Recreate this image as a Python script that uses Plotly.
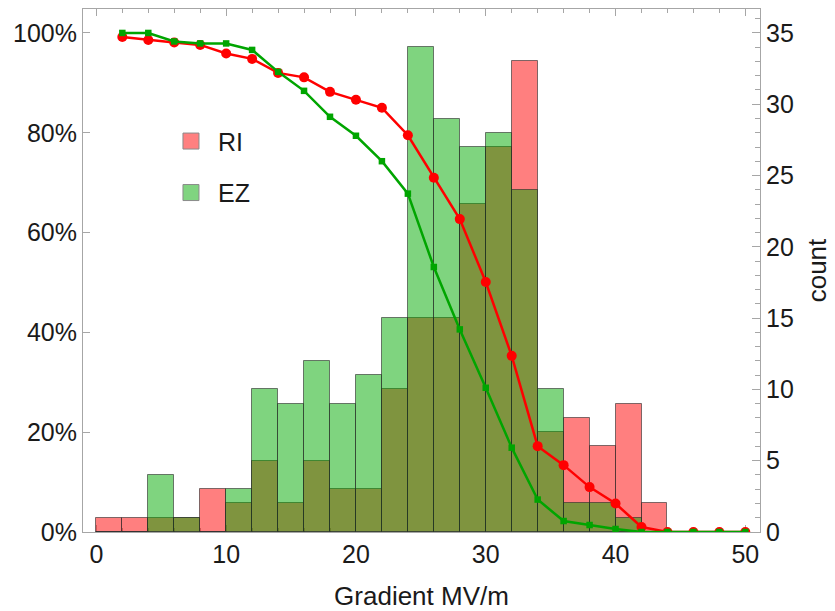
import plotly.graph_objects as go

# ---- data ----
bin_centers = [1, 3, 5, 7, 9, 11, 13, 15, 17, 19, 21, 23, 25, 27, 29, 31, 33, 35, 37, 39, 41, 43]
ri_counts = [1, 1, 1, 1, 3, 2, 5, 2, 5, 3, 3, 10, 15, 15, 23, 27, 33, 7, 8, 6, 9, 2]
ez_counts = [0, 0, 4, 1, 0, 3, 10, 9, 12, 9, 11, 15, 34, 29, 27, 28, 24, 10, 2, 2, 1, 0]

gradient_pts = [2, 4, 6, 8, 10, 12, 14, 16, 18, 20, 22, 24, 26, 28, 30, 32, 34, 36, 38, 40, 42, 44, 46, 48, 50]
ri_pct = [99.2, 98.6, 98.1, 97.6, 95.9, 94.8, 92.0, 91.1, 88.2, 86.6, 85.0, 79.5,
          71.0, 62.7, 50.1, 35.3, 17.2, 13.4, 9.0, 5.7, 1.0, 0, 0, 0, 0]
ez_pct = [100, 100, 98.3, 97.9, 97.9, 96.6, 92.2, 88.4, 83.2, 79.4, 74.3, 67.8,
          53.1, 40.6, 28.9, 16.9, 6.5, 2.2, 1.4, 0.6, 0, 0, 0, 0, 0]

x_ticks = [0, 10, 20, 30, 40, 50]
pct_ticks = [0, 20, 40, 60, 80, 100]
pct_labels = ["0%", "20%", "40%", "60%", "80%", "100%"]
count_ticks = [0, 5, 10, 15, 20, 25, 30, 35]
series_names = ["RI", "EZ"]

FONT = "Liberation Sans, Arial, sans-serif"
FRAME = "#a6a6a6"
EDGE = "rgba(40,40,40,0.6)"
FS = 25
TS = 26

fig = go.Figure()

fig.add_trace(go.Bar(x=bin_centers, y=ri_counts, width=2, yaxis="y",
                     marker=dict(color="rgba(255,0,0,0.5)", line=dict(color=EDGE, width=1)),
                     showlegend=False, hoverinfo="skip"))
fig.add_trace(go.Bar(x=bin_centers, y=ez_counts, width=2, yaxis="y",
                     marker=dict(color="rgba(0,170,0,0.5)", line=dict(color=EDGE, width=1)),
                     showlegend=False, hoverinfo="skip"))

fig.add_trace(go.Scatter(x=gradient_pts, y=ri_pct, yaxis="y2", mode="lines+markers",
                         line=dict(color="#ff0000", width=2.5),
                         marker=dict(symbol="circle", size=10, color="#ff0000"),
                         showlegend=False))
fig.add_trace(go.Scatter(x=gradient_pts, y=ez_pct, yaxis="y2", mode="lines+markers",
                         line=dict(color="#00a500", width=2.5),
                         marker=dict(symbol="square", size=6.5, color="#00a500"),
                         showlegend=False))

# legend entries
fig.add_trace(go.Scatter(x=[None], y=[None], yaxis="y2", mode="markers", name=series_names[0],
                         legendgroup="a",
                         marker=dict(symbol="square", size=16, color="#ff8080",
                                     line=dict(color="#8a8a8a", width=1))))
fig.add_trace(go.Scatter(x=[None], y=[None], yaxis="y2", mode="markers", name=series_names[1],
                         legendgroup="b",
                         marker=dict(symbol="square", size=16, color="#80d480",
                                     line=dict(color="#8a8a8a", width=1))))

# page body has an 8px margin, so the figure is slightly smaller than the window
fig.update_layout(
    width=827, height=603,
    margin=dict(l=75, r=75, t=1, b=79),
    paper_bgcolor="white", plot_bgcolor="white",
    barmode="overlay", bargap=0,
    font=dict(family=FONT, size=FS, color="#1a1a1a"),
    xaxis=dict(range=[-1.03, 51.13], tickvals=x_ticks, ticks="inside", ticklen=7,
               tickcolor=FRAME, showline=True, linecolor=FRAME, linewidth=1,
               mirror="ticks", showgrid=False, zeroline=False, automargin=False,
               minor=dict(dtick=2, ticks="inside", ticklen=4, tickcolor=FRAME),
               title=dict(text="Gradient MV/m", font=dict(size=TS), standoff=20),
               tickfont=dict(size=FS), layer="below traces"),
    yaxis=dict(side="right", range=[0, 36.68], tickvals=count_ticks, ticks="inside",
               ticklen=8, tickcolor=FRAME, showline=True, linecolor=FRAME, linewidth=1,
               showgrid=False, zeroline=False, automargin=False,
               minor=dict(dtick=1, ticks="inside", ticklen=5, tickcolor=FRAME),
               title=dict(text="count", font=dict(size=TS), standoff=14),
               tickfont=dict(size=FS)),
    yaxis2=dict(side="left", overlaying="y", range=[0, 104.8], tickvals=pct_ticks,
                ticktext=pct_labels, ticks="inside", ticklen=7, tickcolor=FRAME,
                showline=True, linecolor=FRAME, linewidth=1, showgrid=False,
                zeroline=False, automargin=False, tickfont=dict(size=FS)),
    legend=dict(x=0.1196, y=0.791, xanchor="left", yanchor="top", bgcolor="rgba(0,0,0,0)",
                font=dict(size=FS), tracegroupgap=16, itemsizing="trace", itemwidth=44),
)

fig.write_html("out.html")
